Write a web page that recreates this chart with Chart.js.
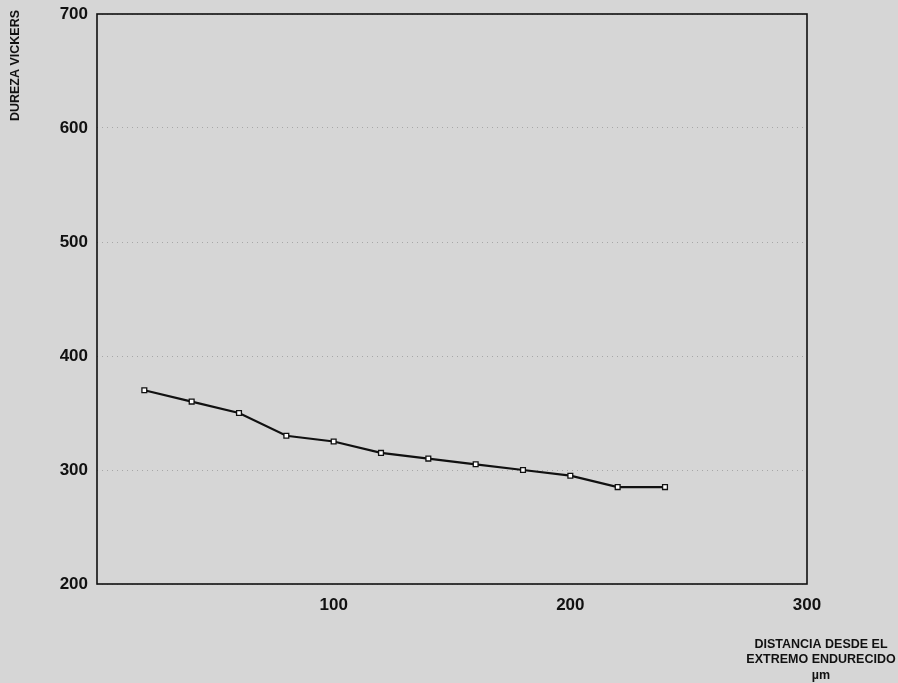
<!DOCTYPE html>
<html>
<head>
<meta charset="utf-8">
<script src="https://cdn.jsdelivr.net/npm/chart.js@4.4.1/dist/chart.umd.min.js"></script>
<style>
  html, body { margin: 0; padding: 0; background: #d6d6d6; }
  #wrap { position: relative; width: 898px; height: 683px; }
</style>
</head>
<body>
<div id="wrap"><canvas id="c" width="898" height="683"></canvas></div>
<script>
// Data
const distances = [20, 40, 60, 80, 100, 120, 140, 160, 180, 200, 220, 240]; // µm
const hardness  = [370, 360, 350, 330, 325, 315, 310, 305, 300, 295, 285, 285]; // HV
const xTickValues = [100, 200, 300];
const yTickValues = [200, 300, 400, 500, 600, 700];
const yTitle = 'DUREZA VICKERS';
const xTitleLines = ['DISTANCIA DESDE EL', 'EXTREMO ENDURECIDO', 'µm'];

const FONT = '"Liberation Sans", Arial, sans-serif';

const points = distances.map((d, i) => ({ x: d, y: hardness[i] }));

const decorPlugin = {
  id: 'decor',
  beforeDraw(chart) {
    const ctx = chart.ctx;
    ctx.save();
    ctx.fillStyle = '#d6d6d6';
    ctx.fillRect(0, 0, chart.width, chart.height);
    ctx.restore();
  },
  afterDraw(chart) {
    const ctx = chart.ctx;
    const a = chart.chartArea;
    ctx.save();
    // frame
    ctx.strokeStyle = '#111';
    ctx.lineWidth = 1.6;
    ctx.strokeRect(a.left, a.top, a.right - a.left, a.bottom - a.top);
    // y title (rotated)
    ctx.fillStyle = '#111';
    ctx.font = 'bold 12.5px ' + FONT;
    ctx.translate(16, 10);
    ctx.rotate(-Math.PI / 2);
    ctx.textAlign = 'right';
    ctx.textBaseline = 'middle';
    ctx.fillText(yTitle, 0, 0);
    ctx.restore();
    // x title lines
    ctx.save();
    ctx.fillStyle = '#111';
    ctx.font = 'bold 12.5px ' + FONT;
    ctx.textAlign = 'center';
    ctx.textBaseline = 'middle';
    const ys = [645, 660, 676];
    xTitleLines.forEach((t, i) => ctx.fillText(t, 821, ys[i]));
    ctx.restore();
  }
};

new Chart(document.getElementById('c'), {
  type: 'line',
  data: {
    datasets: [{
      data: points,
      borderColor: '#111',
      borderWidth: 2.2,
      tension: 0,
      pointStyle: 'rect',
      pointRadius: 3.4,
      pointBackgroundColor: '#ffffff',
      pointBorderColor: '#111',
      pointBorderWidth: 1.3
    }]
  },
  options: {
    responsive: false,
    animation: false,
    devicePixelRatio: 1,
    layout: { padding: { left: 0, top: 14, right: 91, bottom: 0 } },
    plugins: { legend: { display: false }, tooltip: { enabled: false } },
    scales: {
      x: {
        type: 'linear',
        min: 0, max: 300,
        afterBuildTicks(scale) { scale.ticks = xTickValues.map(v => ({ value: v })); },
        afterFit(scale) { scale.height = 99; scale.paddingLeft = 0; scale.paddingRight = 0; },
        grid: { display: false, drawTicks: false },
        border: { display: false },
        ticks: {
          color: '#111',
          padding: 11,
          font: { family: FONT, size: 17, weight: 'bold' },
          maxRotation: 0
        }
      },
      y: {
        type: 'linear',
        min: 200, max: 700,
        afterBuildTicks(scale) { scale.ticks = yTickValues.map(v => ({ value: v })); },
        afterFit(scale) { scale.width = 97; scale.paddingTop = 0; scale.paddingBottom = 0; },
        grid: {
          drawTicks: false,
          color: 'rgba(0,0,0,0.22)',
          lineWidth: 1
        },
        border: { display: false, dash: [1, 4] },
        ticks: {
          color: '#111',
          padding: 9,
          font: { family: FONT, size: 17, weight: 'bold' }
        }
      }
    }
  },
  plugins: [decorPlugin]
});
</script>
</body>
</html>
